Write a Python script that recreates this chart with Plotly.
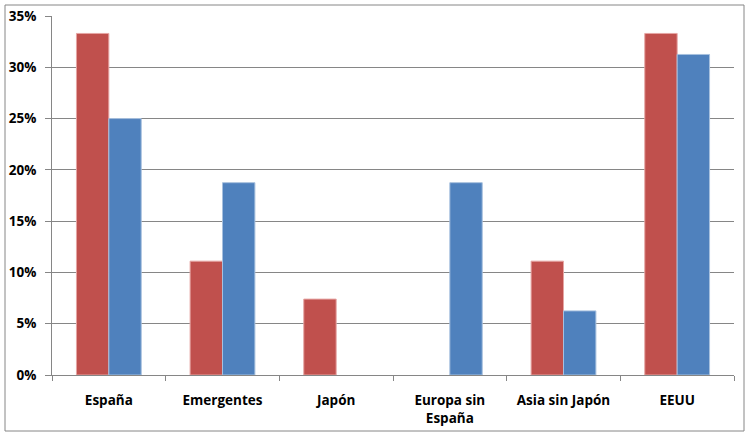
import plotly.graph_objects as go

categories = ["España", "Emergentes", "Japón", "Europa sin<br>España", "Asia sin Japón", "EEUU"]
serie_roja = [0.333, 0.111, 0.074, 0.0, 0.111, 0.333]
serie_azul = [0.25, 0.1875, 0.0, 0.1875, 0.0625, 0.3125]
y_ticks = [0, 0.05, 0.10, 0.15, 0.20, 0.25, 0.30, 0.35]
y_labels = ["0%", "5%", "10%", "15%", "20%", "25%", "30%", "35%"]

fig = go.Figure()
fig.add_bar(x=categories, y=serie_roja,
            marker=dict(color="#C0504D", line=dict(color="#E6A5A3", width=[1 if v > 0 else 0 for v in serie_roja])))
fig.add_bar(x=categories, y=serie_azul,
            marker=dict(color="#4F81BD", line=dict(color="#A7C0DE", width=[1 if v > 0 else 0 for v in serie_azul])))

W, H = 751, 436
l, r, t, b = 52, 17, 16, 61
pw, ph = W - l - r, H - t - b

tf = dict(family="Open Sans, sans-serif", size=13.5, weight="bold", color="#000000")

fig.update_layout(
    width=W, height=H,
    margin=dict(l=l, r=r, t=t, b=b, autoexpand=False),
    paper_bgcolor="white", plot_bgcolor="white",
    barmode="group", bargap=0.43, bargroupgap=0,
    showlegend=False,
    xaxis=dict(
        showline=True, linecolor="#868686", linewidth=1,
        ticks="outside", tickson="boundaries", ticklen=5, tickcolor="#868686",
        tickfont=tf, ticklabelstandoff=13,
        showgrid=False, automargin=False,
    ),
    yaxis=dict(
        range=[0, 0.35], tickvals=y_ticks, ticktext=y_labels,
        showline=True, linecolor="#868686", linewidth=1,
        ticks="outside", ticklen=6, tickcolor="#868686",
        showgrid=True, gridcolor="#868686", gridwidth=1,
        tickfont=tf, ticklabelstandoff=6,
        zeroline=False, automargin=False,
    ),
    shapes=[dict(
        type="rect", xref="paper", yref="paper",
        x0=(5 - l) / pw, x1=(744 - l) / pw,
        y0=(H - b - 431) / ph, y1=(H - b - 5) / ph,
        line=dict(color="#868686", width=1), fillcolor="rgba(0,0,0,0)", layer="above",
    )],
)

fig.write_html("out.html", config={"displayModeBar": False},
               post_script="document.body.style.margin='0';")
